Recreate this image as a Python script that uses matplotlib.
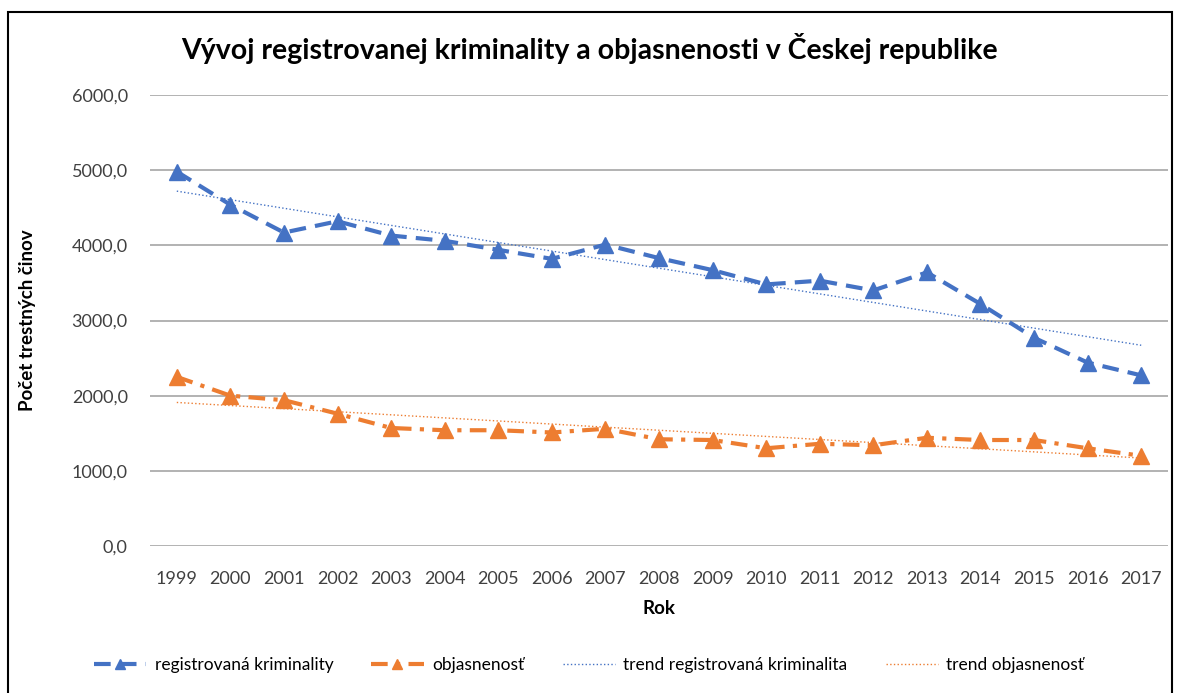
import numpy as np
import matplotlib
matplotlib.use("Agg")
from matplotlib import pyplot as plt
from matplotlib.ticker import FuncFormatter

years = list(range(1999, 2018))
kriminalita = [4980, 4540, 4170, 4320, 4130, 4060, 3940, 3820, 4010, 3830,
               3670, 3480, 3530, 3400, 3640, 3220, 2770, 2440, 2270]
objasnenost = [2250, 2000, 1940, 1760, 1570, 1540, 1540, 1510, 1560, 1420,
               1410, 1300, 1360, 1340, 1440, 1410, 1410, 1300, 1200]

blue = '#4472C4'
orange = '#ED7D31'

plt.rcParams['font.family'] = ['Lato', 'DejaVu Sans']

fig = plt.figure(figsize=(11.78, 6.93), dpi=100)
ax = fig.add_axes([150 / 1178, 1 - 546 / 693, (1168 - 150) / 1178, (546 - 95) / 693])

x = np.arange(len(years))
ax.plot(x, kriminalita, color=blue, lw=3, dashes=(4, 2.2), marker='^', ms=11,
        label='registrovaná kriminality')
ax.plot(x, objasnenost, color=orange, lw=3, dashes=(4, 2, 1, 2), marker='^', ms=11,
        label='objasnenosť')

# linear trends like Excel
k1 = np.polyfit(x, kriminalita, 1)
k2 = np.polyfit(x, objasnenost, 1)
ax.plot(x, np.polyval(k1, x), color=blue, lw=1, ls=':', label='trend registrovaná kriminalita')
ax.plot(x, np.polyval(k2, x), color=orange, lw=1, ls=':', label='trend objasnenosť')

ax.set_xlim(-0.5, len(years) - 0.5)
ax.set_ylim(0, 6000)
ax.set_yticks(range(0, 6001, 1000))
ax.yaxis.set_major_formatter(FuncFormatter(lambda v, p: f'{v:.1f}'.replace('.', ',')))
ax.set_xticks(x)
ax.set_xticklabels([str(y) for y in years])
ax.grid(axis='y', color='#A6A6A6', lw=1.2)
ax.set_axisbelow(True)
for s in ax.spines.values():
    s.set_visible(False)
ax.tick_params(length=0, labelsize=13, colors='#404040')
ax.tick_params(axis='x', pad=18)
ax.tick_params(axis='y', pad=16)

ax.set_xlabel('Rok', fontsize=13.5, fontweight='bold', labelpad=9)
ax.set_ylabel('Počet trestných činov', fontsize=13.5, fontweight='bold', labelpad=26)
fig.text(0.5, 1 - 48 / 693, 'Vývoj registrovanej kriminality a objasnenosti v Českej republike',
         ha='center', va='center', fontsize=20.5, fontweight='bold')

fig.legend(loc='center', bbox_to_anchor=(0.5, 1 - 665 / 693), ncol=4, frameon=False,
           fontsize=12.5, handlelength=3.0, columnspacing=2.2, handletextpad=0.5,
           markerscale=0.65)

fig.patches.append(plt.Rectangle((8 / 1178, -0.05), (1172 - 8) / 1178, 1 - 12 / 693 + 0.05,
                                 transform=fig.transFigure, fill=False, ec='black', lw=1.5))

fig.savefig('out.png', dpi=100)
